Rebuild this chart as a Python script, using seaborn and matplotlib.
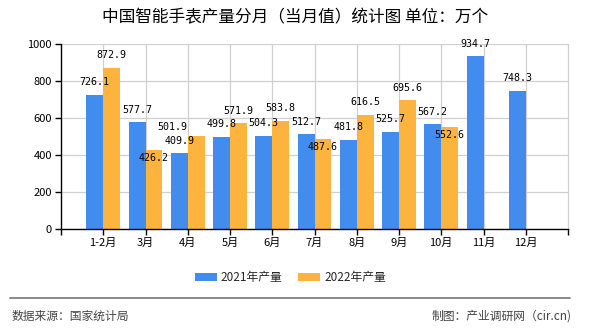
import numpy as np
import pandas as pd
import matplotlib
matplotlib.use("Agg")
import matplotlib.pyplot as plt
import seaborn as sns

months = ["1-2月", "3月", "4月", "5月", "6月", "7月", "8月", "9月", "10月", "11月", "12月"]
vals_2021 = [726.1, 577.7, 409.9, 499.8, 504.3, 512.7, 481.8, 525.7, 567.2, 934.7, 748.3]
vals_2022 = [872.9, 426.2, 501.9, 571.9, 583.8, 487.6, 616.5, 695.6, 552.6]
series_names = ["2021年产量", "2022年产量"]
yticks = [0, 200, 400, 600, 800, 1000]

title = "中国智能手表产量分月（当月值）统计图 单位：万个"
source_left = "数据来源：国家统计局"
source_right = "制图：产业调研网（cir.cn)"

colors = ["#428CEE", "#FCB43F"]

rows = []
for m, v in zip(months, vals_2021):
    rows.append({"月份": m, "系列": series_names[0], "值": v})
for m, v in zip(months, vals_2022):
    rows.append({"月份": m, "系列": series_names[1], "值": v})
df = pd.DataFrame(rows)

sns.set_theme(style="white")
plt.rcParams["font.family"] = ["Noto Sans CJK SC", "DejaVu Sans"]

fig = plt.figure(figsize=(5.9, 3.3), dpi=100)
ax = fig.add_axes([61 / 590, 1 - 229 / 330, (568 - 61) / 590, (229 - 44) / 330])

sns.barplot(data=df, x="月份", y="值", hue="系列", order=months,
            hue_order=series_names, palette=colors, width=0.8,
            saturation=1, ax=ax, legend=True, errorbar=None,
            linewidth=0, edgecolor="none")

ax.set_xlim(-1, len(months))
ax.set_ylim(0, 1000)
ax.set_yticks(yticks)
ax.set_yticklabels([str(t) for t in yticks])
ax.set_xlabel("")
ax.set_ylabel("")

ax.grid(True, axis="both", color="#D0D0D0", linewidth=0.9)
ax.set_axisbelow(True)
for side in ["left", "bottom"]:
    ax.spines[side].set_color("black")
    ax.spines[side].set_linewidth(1.0)
ax.spines["top"].set_visible(False)
ax.spines["right"].set_color("#D0D0D0")
ax.spines["right"].set_linewidth(0.9)

ax.tick_params(axis="both", which="major", length=4, width=1, color="black",
               labelsize=8, labelcolor="black", pad=2.5, bottom=True, left=True)
ax.set_xticks([-1, len(months)], minor=True)
ax.tick_params(axis="x", which="minor", length=4, width=1, color="black", bottom=True)

# data labels: (dx, dy) offsets in points relative to bar top center
offsets_2021 = {}
offsets_2022 = {1: (0, -6), 2: (-17, 6.5), 5: (0, -6), 8: (0, -6)}
default_off = (0, 9)

for cont, vals, offs in zip(ax.containers, [vals_2021, vals_2022], [offsets_2021, offsets_2022]):
    for i, (bar, v) in enumerate(zip(cont.patches, vals)):
        dx, dy = offs.get(i, default_off)
        cx = bar.get_x() + bar.get_width() / 2
        ax.annotate(f"{v:.1f}", xy=(cx, bar.get_height()), xytext=(dx, dy),
                    textcoords="offset points", ha="center", va="center",
                    fontsize=7.2, family=["DejaVu Sans Mono"], color="black")

leg = ax.legend(loc="center", bbox_to_anchor=(0.492, 0.159),
                bbox_transform=fig.transFigure, ncol=2, frameon=False,
                fontsize=8.5, handlelength=1.86, handleheight=0.68,
                handletextpad=0.35, columnspacing=1.3)

fig.text(0.5, 1 - 17.5 / 330, title, ha="center", va="center", fontsize=12, color="black")

fig.add_artist(plt.Line2D([10 / 590, 570 / 590], [1 - 298 / 330, 1 - 298 / 330],
                          color="#808080", linewidth=1.3, transform=fig.transFigure))
fig.text(12 / 590, 1 - 316 / 330, source_left, ha="left", va="center", fontsize=8.5, color="#444444")
fig.text(572 / 590, 1 - 316 / 330, source_right, ha="right", va="center", fontsize=8.5, color="#444444")

fig.savefig("out.png", dpi=100)
